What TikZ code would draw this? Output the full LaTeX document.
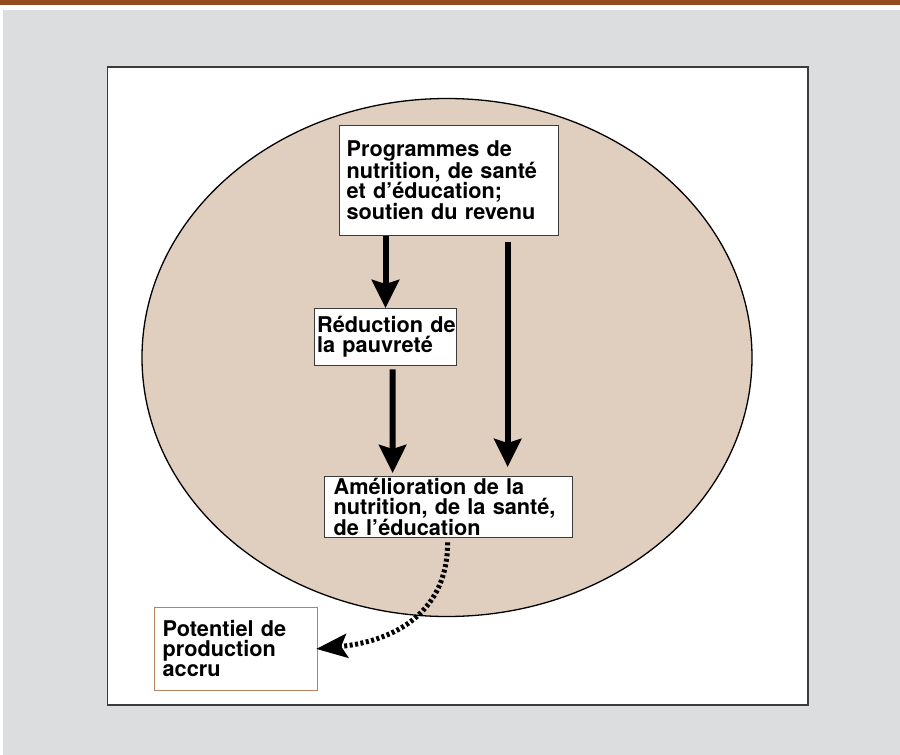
\documentclass[tikz,border=0pt]{standalone}
\usepackage{fontspec}
\setmainfont{TeX Gyre Heros}
\usetikzlibrary{arrows.meta}
\definecolor{barbrown}{RGB}{147,76,32}
\definecolor{bggray}{RGB}{220,221,222}
\definecolor{ovalfill}{RGB}{224,206,190}
\definecolor{boxgray}{RGB}{60,60,60}
\definecolor{potbrown}{RGB}{185,130,95}

\begin{document}
\begin{tikzpicture} [x=1pt, y=-1pt,
        boite/.style = {draw=boxgray, line width=1.3pt, fill=white, anchor=north west,
            align=left, inner ysep=0pt, font=\bfseries\fontsize{21.7pt}{19.5pt}\selectfont},
        fleche/.style = {line width=6pt, -{Stealth[length=28pt, width=27pt, inset=4pt]}},
        pointille/.style = {line width=5pt, dash pattern=on 3pt off 2.5pt,
            -{Stealth[length=31pt, width=24pt, inset=6pt]}}]
        \useasboundingbox (0,0) rectangle (900,755);
        %Fond
        \fill[bggray] (0,0) rectangle (900,755);
        \fill[white] (0,0) rectangle (900,10);
        \fill[white] (0,0) rectangle (3,755);
        \fill[barbrown] (0,0) rectangle (900,5);
        \draw[fill=white, line width=1.8pt, draw=boxgray] (107.5,67) rectangle (808,705);
        \draw[fill=ovalfill, line width=1.3pt] (447,357.5) ellipse [x radius=305, y radius=259];

        %Boites
        \node[boite, minimum width=219pt, minimum height=110pt, inner xsep=7pt, text width=205pt,
            font=\bfseries\fontsize{21.7pt}{20.8pt}\selectfont] (prog) at (339,124.5)
            {Programmes de\\nutrition, de santé\\et d’éducation;\\soutien du revenu};
        \node[boite, minimum width=141.7pt, minimum height=57pt, inner xsep=2.5pt, text width=136.7pt,
            font=\bfseries\fontsize{21.7pt}{20pt}\selectfont] (reduc) at (314,308)
            {Réduction~de\\la~pauvreté};
        \node[boite, minimum width=248pt, minimum height=61pt, inner xsep=9pt, text width=230pt] (amel) at (324,476)
            {Amélioration~de~la\\nutrition,~de~la~santé,\\de~l’éducation};
        \node[boite, draw=potbrown, minimum width=163pt, minimum height=83.5pt, inner xsep=8pt, text width=147pt,
            font=\bfseries\fontsize{21.7pt}{20pt}\selectfont] (pot) at (154,606.5)
            {Potentiel~de\\production\\accru};

        %Fleches
        \draw[fleche] (reduc.north |- prog.south) -- (reduc.north);
        \draw[fleche] ([xshift=58.5pt, yshift=-6pt]prog.south) -- ([xshift=59pt, yshift=9pt]amel.north);
        \draw[fleche] ([xshift=7pt, yshift=-3pt]reduc.south) -- ([xshift=-56pt, yshift=3pt]amel.north);
        \draw[pointille] ([xshift=-1pt, yshift=-4pt]amel.south) .. controls +(0,69) and +(80,-8) .. ([xshift=-2pt]pot.east);
    \end{tikzpicture}
\end{document}
